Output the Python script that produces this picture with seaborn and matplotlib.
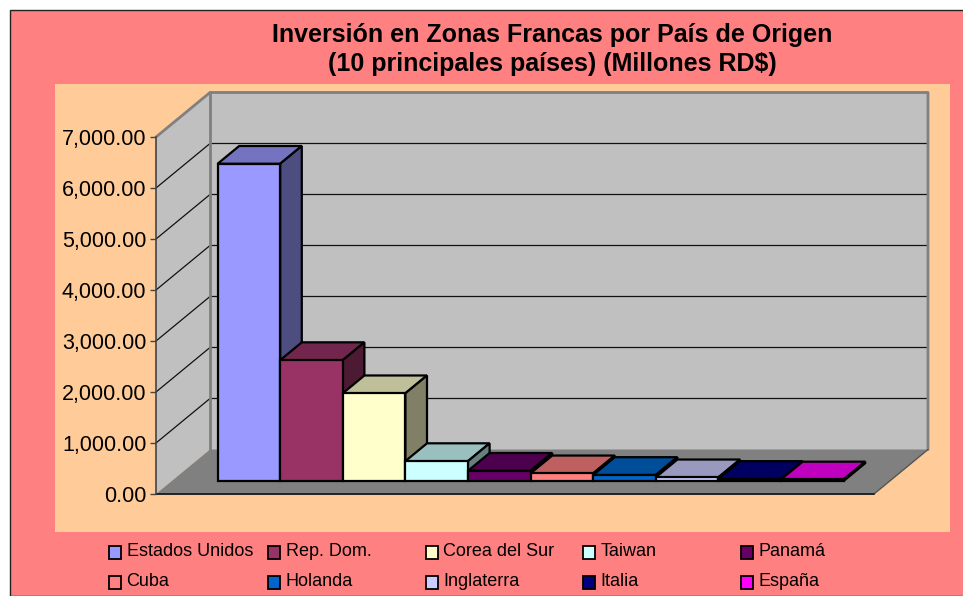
import matplotlib
matplotlib.use("Agg")
import matplotlib.pyplot as plt
from matplotlib.patches import Polygon, Rectangle
from matplotlib.colors import to_rgb
import seaborn as sns

paises = ["Estados Unidos", "Rep. Dom.", "Corea del Sur", "Taiwan", "Panamá",
          "Cuba", "Holanda", "Inglaterra", "Italia", "España"]
inversion = [6220, 2370, 1720, 390, 200, 150, 118, 72, 40, 30]
colores = ["#9999FF", "#993366", "#FFFFCC", "#CCFFFF", "#660066",
           "#FF8080", "#0066CC", "#CCCCFF", "#000080", "#FF00FF"]
ticks_y = [0, 1000, 2000, 3000, 4000, 5000, 6000, 7000]
titulo = "Inversión en Zonas Francas por País de Origen\n(10 principales países) (Millones RD$)"

W, H = 963, 596
ROSA, NARANJA, PARED, PISO = "#FF8080", "#FFCC99", "#C0C0C0", "#808080"
# tamaños en pixeles
BAR_PX = 62.6
FONDO_X, FONDO_Y = 54, 44.5
SHIFT_X, SHIFT_Y = 15.6, 13
PROF_BARRA = 0.4

sns.set_theme(style="white")
plt.rcParams["font.family"] = ["Liberation Sans", "DejaVu Sans"]


def caja(x, y, w, h):
    # pixeles con origen arriba a la izquierda -> fraccion de figura
    return [x / W, 1 - (y + h) / H, w / W, h / H]


fig = plt.figure(figsize=(W / 100, H / 100), dpi=100, facecolor="white")

# fondos
fig.add_artist(Rectangle((9.5 / W, 0), 1, 1 - 9.5 / H, transform=fig.transFigure,
                         facecolor=ROSA, edgecolor="#222222", linewidth=1, zorder=-3))
fig.add_artist(Rectangle((55 / W, 1 - 532 / H), 895 / W, 448 / H, transform=fig.transFigure,
                         facecolor=NARANJA, edgecolor="none", zorder=-2))

# plano frontal con el eje y
ax_y = fig.add_axes(caja(156, 137, 718, 357), zorder=1)
ax_y.patch.set_visible(False)
ax_y.set_xlim(0, 718 / BAR_PX)
ax_y.set_ylim(0, 7000)
vmax = ticks_y[-1]
px_valor = vmax / 357
dx = FONDO_X / BAR_PX
dv = FONDO_Y * px_valor
xfin = 718 / BAR_PX

ax_y.add_patch(Polygon([(0, 0), (dx, dv), (dx, vmax + dv), (0, vmax)], closed=True,
                       facecolor=PARED, edgecolor="none", clip_on=False))
ax_y.add_patch(Rectangle((dx, dv), xfin, vmax, facecolor=PARED, edgecolor="none", clip_on=False))
ax_y.add_patch(Polygon([(0, 0), (xfin, 0), (xfin + dx, dv), (dx, dv)], closed=True,
                       facecolor=PISO, edgecolor="none", clip_on=False))
for t in ticks_y[1:-1]:
    ax_y.plot([0, dx, xfin + dx], [t, t + dv, t + dv], color="#111111", lw=0.9, clip_on=False)
ax_y.plot([0, dx, xfin + dx, xfin + dx], [vmax, vmax + dv, vmax + dv, dv],
          color=PISO, lw=2, clip_on=False)
ax_y.plot([dx, dx], [dv, vmax + dv], color=PISO, lw=2, clip_on=False)
ax_y.plot([xfin, xfin + dx], [0, dv], color="#555555", lw=1, clip_on=False)
ax_y.plot([0, xfin], [0, 0], color="#222222", lw=1.4, clip_on=False)

sns.despine(ax=ax_y, top=True, right=True, bottom=True)
ax_y.spines["left"].set_color("#444444")
ax_y.spines["left"].set_linewidth(1.2)
ax_y.set_xticks([])
ax_y.set_yticks(ticks_y)
ax_y.set_yticklabels([f"{t:,.2f}" for t in ticks_y], fontsize=15.5, color="black")
ax_y.tick_params(axis="y", left=True, length=4, width=1, color="#444444", pad=3)

# barras
ax = fig.add_axes(caja(156 + SHIFT_X, 137 - SHIFT_Y, 718, 357), zorder=2)
ax.patch.set_visible(False)
sns.barplot(x=paises, y=inversion, hue=paises, palette=colores, width=1, legend=False,
            edgecolor="black", linewidth=1.6, saturation=1, ax=ax)
margen = (xfin - len(paises)) / 2
ax.set_xlim(-0.5 - margen, len(paises) - 0.5 + margen)
ax.set_ylim(0, vmax)
ax.axis("off")

bx = PROF_BARRA * dx
bv = PROF_BARRA * dv
for i, (bar, color) in enumerate(zip(ax.patches, colores)):
    x0, w, h = bar.get_x(), bar.get_width(), bar.get_height()
    rgb = to_rgb(color)
    bar.set_zorder(5 + i * 3 + 2)
    bar.set_clip_on(False)
    arriba = [c * 0.75 for c in rgb]
    lado = [c * 0.5 for c in rgb]
    ax.add_patch(Polygon([(x0, h), (x0 + bx, h + bv), (x0 + w + bx, h + bv), (x0 + w, h)], closed=True,
                         facecolor=arriba, edgecolor="black", linewidth=1.6, clip_on=False,
                         zorder=5 + i * 3))
    ax.add_patch(Polygon([(x0 + w, 0), (x0 + w + bx, bv), (x0 + w + bx, h + bv), (x0 + w, h)], closed=True,
                         facecolor=lado, edgecolor="black", linewidth=1.6, clip_on=False,
                         zorder=5 + i * 3 + 1))

fig.text(552 / W, 1 - 49.5 / H, titulo, ha="center", va="center", fontsize=18, fontweight="bold",
         color="black", linespacing=1.3)

# leyenda, como en Excel: cinco columnas y dos filas
col_x = [109, 268, 425.5, 583, 741]
fila_y = [552, 582]
for i, (pais, color) in enumerate(zip(paises, colores)):
    x = col_x[i % 5]
    y = fila_y[i // 5]
    fig.add_artist(Rectangle((x / W, 1 - (y + 6.5) / H), 12 / W, 13 / H, transform=fig.transFigure,
                             facecolor=color, edgecolor="black", linewidth=1.3))
    fig.text((x + 17.5) / W, 1 - y / H, pais, ha="left", va="center", fontsize=13, color="black")

fig.savefig("out.png", dpi=100, facecolor=fig.get_facecolor())
